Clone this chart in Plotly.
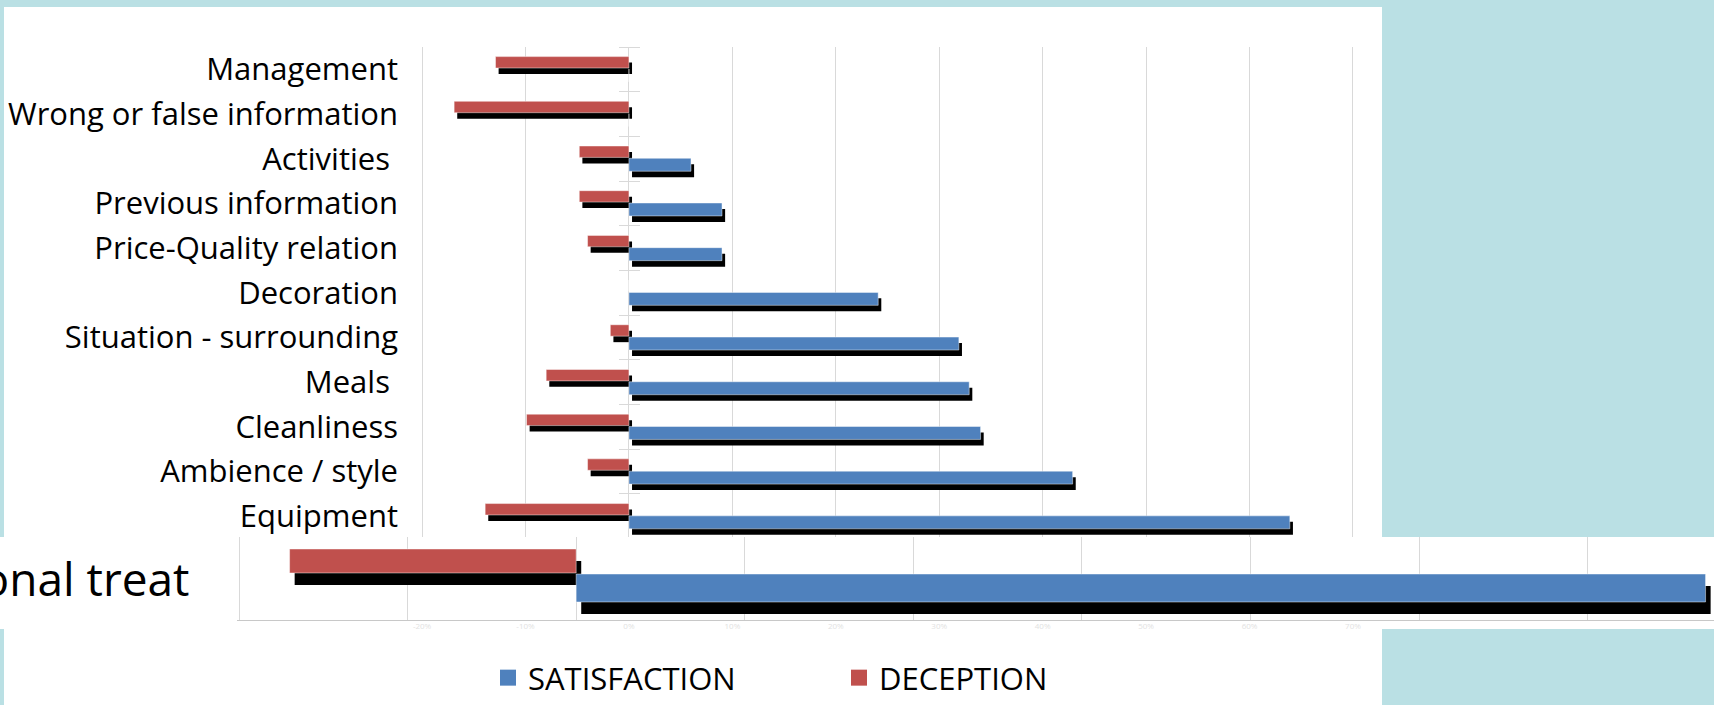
import plotly.graph_objects as go

W, H = 1714, 705

# ---------------- data ----------------
categories = ["Management", "Wrong or false information", "Activities\u00a0",
              "Previous information", "Price-Quality relation", "Decoration",
              "Situation - surrounding", "Meals\u00a0", "Cleanliness",
              "Ambience / style", "Equipment"]
satisfaction = [0, 0, 6.0, 9.0, 9.0, 24.1, 31.9, 32.9, 34.0, 42.9, 63.9]
deception = [-12.9, -16.9, -4.8, -4.8, -4.0, 0, -1.8, -8.0, -9.9, -4.0, -13.9]

zoom_category = ["Personal treat"]
zoom_satisfaction = [67.0]
zoom_deception = [-17.0]

x_ticks = [-20, -10, 0, 10, 20, 30, 40, 50, 60, 70]
x_tick_labels = ["-20%", "-10%", "0%", "10%", "20%", "30%", "40%", "50%", "60%", "70%"]

series_names = ["SATISFACTION", "DECEPTION"]

# ---------------- style ----------------
BLUE = "#4f81bd"
RED = "#c0504d"
BG = "#bae0e4"
GRID = "#d9d9d9"
FONT = "'Open Sans', 'Liberation Sans', sans-serif"
SHIFT = 0.3  # shadow shift along value axis

fig = go.Figure()

# main chart -------------------------------------------------
main_geo = dict(red_off=-0.285, red_w=0.255, blue_off=-0.01, blue_w=0.29, sh=0.134)
for vals, off, w in [(deception, main_geo["red_off"], main_geo["red_w"]),
                     (satisfaction, main_geo["blue_off"], main_geo["blue_w"])]:
    fig.add_trace(go.Bar(y=categories, x=vals, base=SHIFT, orientation="h",
                         offset=off + main_geo["sh"], width=w,
                         marker=dict(color="black", line=dict(width=0)),
                         showlegend=False, hoverinfo="skip", xaxis="x", yaxis="y"))
fig.add_trace(go.Bar(y=categories, x=deception, orientation="h", name=series_names[1],
                     offset=main_geo["red_off"], width=main_geo["red_w"],
                     marker=dict(color=RED, line=dict(width=1, color="rgba(255,255,255,0.45)")),
                     showlegend=False, xaxis="x", yaxis="y"))
fig.add_trace(go.Bar(y=categories, x=satisfaction, orientation="h", name=series_names[0],
                     offset=main_geo["blue_off"], width=main_geo["blue_w"],
                     marker=dict(color=BLUE, line=dict(width=1, color="rgba(255,255,255,0.45)")),
                     showlegend=False, xaxis="x", yaxis="y"))

# zoomed "Personal treat" strip -----------------------------
zoom_geo = dict(red_off=-0.3735, red_w=0.289, blue_off=-0.072, blue_w=0.337, sh=0.145)
for vals, off, w in [(zoom_deception, zoom_geo["red_off"], zoom_geo["red_w"]),
                     (zoom_satisfaction, zoom_geo["blue_off"], zoom_geo["blue_w"])]:
    fig.add_trace(go.Bar(y=zoom_category, x=vals, base=SHIFT, orientation="h",
                         offset=off + zoom_geo["sh"], width=w,
                         marker=dict(color="black", line=dict(width=0)),
                         showlegend=False, hoverinfo="skip", xaxis="x2", yaxis="y2"))
fig.add_trace(go.Bar(y=zoom_category, x=zoom_deception, orientation="h", name=series_names[1],
                     offset=zoom_geo["red_off"], width=zoom_geo["red_w"],
                     marker=dict(color=RED, line=dict(width=1, color="rgba(255,255,255,0.45)")),
                     showlegend=False, xaxis="x2", yaxis="y2"))
fig.add_trace(go.Bar(y=zoom_category, x=zoom_satisfaction, orientation="h", name=series_names[0],
                     offset=zoom_geo["blue_off"], width=zoom_geo["blue_w"],
                     marker=dict(color=BLUE, line=dict(width=1, color="rgba(255,255,255,0.45)")),
                     showlegend=False, xaxis="x2", yaxis="y2"))

# legend entries
for name, col, rank in [(series_names[0], BLUE, 1), (series_names[1], RED, 2)]:
    fig.add_trace(go.Scatter(x=[None], y=[None], mode="markers", name=name,
                             marker=dict(symbol="square", size=16, color=col),
                             legendrank=rank, xaxis="x", yaxis="y"))

def py(v):
    return (H - v) / H

fig.update_layout(
    width=W, height=H,
    margin=dict(l=0, r=0, t=0, b=0, autoexpand=False),
    paper_bgcolor=BG, plot_bgcolor="white",
    barmode="overlay",
    font=dict(family=FONT, color="black"),
    shapes=[
        dict(type="rect", xref="paper", yref="paper", x0=4 / W, x1=1382 / W,
             y0=0, y1=py(7), fillcolor="white", line=dict(width=0), layer="below"),
        dict(type="rect", xref="paper", yref="paper", x0=0, x1=1,
             y0=py(629), y1=py(537), fillcolor="white", line=dict(width=0), layer="below"),
    ],
    xaxis=dict(domain=[420 / W, 1355 / W], range=[-20.2, 70.2], tickvals=x_ticks,
               ticktext=x_tick_labels, showgrid=True, gridcolor=GRID, gridwidth=1,
               zeroline=True, zerolinecolor=GRID, zerolinewidth=1, showline=False,
               ticks="", tickfont=dict(size=8, color="#e2e2e2"), anchor="y",
               automargin=False, fixedrange=True),
    yaxis=dict(domain=[py(620), py(47)], type="category", categoryorder="array",
               categoryarray=categories, range=[12.32, -0.5], anchor="free",
               position=640 / W, side="left", ticks="outside", ticklen=21,
               tickcolor=GRID, tickwidth=1, tickson="boundaries", ticklabelstandoff=242,
               showgrid=False, showline=False, zeroline=False, automargin=False,
               tickfont=dict(size=31, color="black", family=FONT), fixedrange=True),
    xaxis2=dict(domain=[236.5 / W, 1], range=[-20.15, 67.5], tickvals=x_ticks,
                showticklabels=False, showgrid=True, gridcolor=GRID, gridwidth=1,
                zeroline=True, zerolinecolor=GRID, zerolinewidth=1,
                showline=True, linecolor="#c8c8c8", linewidth=1, ticks="",
                anchor="y2", automargin=False, fixedrange=True),
    yaxis2=dict(domain=[py(620), py(537)], type="category", range=[0.482, -0.518],
                anchor="x2", ticks="", ticklabelstandoff=46, showgrid=False,
                showline=False, zeroline=False, automargin=False,
                tickfont=dict(size=46, color="black", family=FONT), fixedrange=True),
    legend=dict(orientation="h", x=488 / W, y=py(678), xanchor="left", yanchor="middle",
                font=dict(size=31, family=FONT, color="black"),
                bgcolor="rgba(0,0,0,0)", entrywidth=306, entrywidthmode="pixels"),
)

fig.write_html("out.html")
